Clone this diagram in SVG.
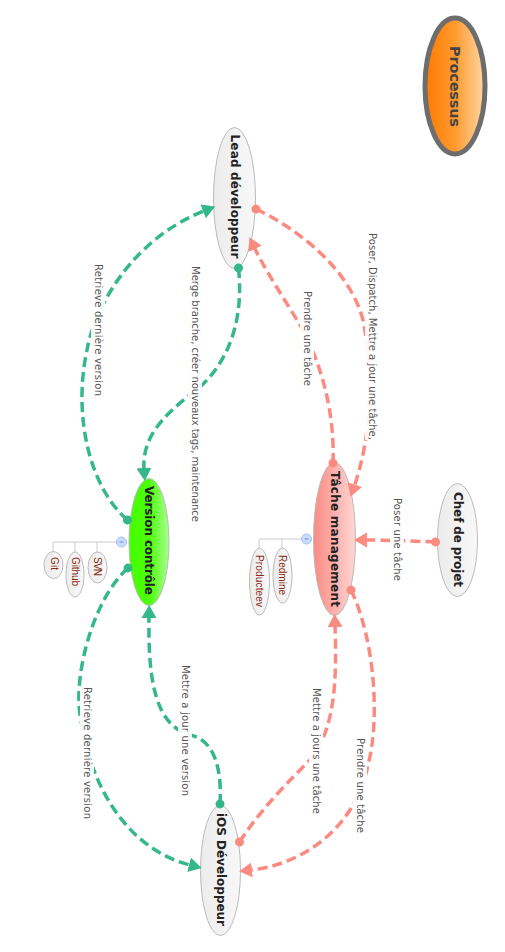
<svg xmlns="http://www.w3.org/2000/svg" width="505" height="952" viewBox="0 0 505 952">
<style>
text{font-family:"DejaVu Sans",Verdana,sans-serif;text-anchor:middle;dominant-baseline:central}
.n{font-size:12px;font-weight:bold;fill:#222}
.l{font-size:10px;fill:#555}
.b{fill:#fff;fill-opacity:.92}
.s{font-family:"Liberation Sans",Arial,sans-serif;font-size:10px;fill:#8a2a10}
.e{stroke:#bbb;stroke-width:1}
.c{fill:none;stroke-width:3.500;stroke-dasharray:10 5}
.g{stroke:#34b78a;marker-start:url(#dg);marker-end:url(#ag)}
.r{stroke:#fb8a80;marker-start:url(#dr);marker-end:url(#ar)}
.t{fill:none;stroke:#ccc;stroke-width:1}
.i{fill:#c9dcff;stroke:#a5c0ee;stroke-width:1}
</style>
<defs>
<linearGradient id="gp"><stop offset="0" stop-color="#ff7a00"/><stop offset=".5" stop-color="#ff9a2e"/><stop offset="1" stop-color="#ffd8a8"/></linearGradient>
<linearGradient id="gw"><stop offset="0" stop-color="#ececec"/><stop offset="1" stop-color="#f8f8f8"/></linearGradient>
<linearGradient id="gv"><stop offset="0" stop-color="#44ff00"/><stop offset=".5" stop-color="#4cff08"/><stop offset="1" stop-color="#a8ff90"/></linearGradient>
<linearGradient id="gt"><stop offset="0" stop-color="#fb8a84"/><stop offset="1" stop-color="#ffd6d3"/></linearGradient>
<marker id="ag" markerUnits="userSpaceOnUse" markerWidth="16" markerHeight="16" refX="1" refY="8" orient="auto"><path d="M0,0.500L13,8L0,15.500Z" fill="#34b78a"/></marker>
<marker id="ar" markerUnits="userSpaceOnUse" markerWidth="16" markerHeight="16" refX="1" refY="8" orient="auto"><path d="M0,0.500L13,8L0,15.500Z" fill="#fb8a80"/></marker>
<marker id="dg" markerUnits="userSpaceOnUse" markerWidth="12" markerHeight="12" refX="6" refY="6" orient="auto"><circle cx="6" cy="6" r="4.500" fill="#34b78a"/></marker>
<marker id="dr" markerUnits="userSpaceOnUse" markerWidth="12" markerHeight="12" refX="6" refY="6" orient="auto"><circle cx="6" cy="6" r="4.500" fill="#fb8a80"/></marker>
</defs>
<g id="processus"><ellipse cx="455" cy="86" rx="30" ry="68" fill="url(#gp)" stroke="#6d6d6d" stroke-width="5"/><text style="font-size:14.500px;font-weight:bold;fill:#444" textLength="81" transform="translate(455,86.500) rotate(90)">Processus</text></g>
<g id="lead"><ellipse class="e" cx="234.500" cy="198" rx="21" ry="70.500" fill="url(#gw)"/><text class="n" textLength="124" transform="translate(234.500,196.500) rotate(90)">Lead développeur</text></g>
<g id="version"><ellipse class="e" cx="149" cy="542" rx="20" ry="63.500" fill="url(#gv)"/><text class="n" textLength="109" transform="translate(149,540.500) rotate(90)">Version contrôle</text></g>
<g id="tache"><ellipse class="e" cx="334.500" cy="539" rx="21" ry="76.500" fill="url(#gt)"/><text class="n" textLength="136" transform="translate(334.500,539) rotate(90)">Tâche management</text></g>
<g id="chef"><ellipse class="e" cx="457.500" cy="540" rx="20" ry="56.500" fill="url(#gw)"/><text class="n" textLength="95" transform="translate(457.500,539.500) rotate(90)">Chef de projet</text></g>
<g id="ios"><ellipse class="e" cx="220.500" cy="870.500" rx="20" ry="65" fill="url(#gw)"/><text class="n" textLength="113" transform="translate(220.500,869.500) rotate(90)">iOS Développeur</text></g>
<g id="version-sub">
<path class="t" d="M116,542H53V552M75,542V552M97,542V552"/>
<circle class="i" cx="121.500" cy="542" r="5"/><path d="M119.500,542H123.500" stroke="#6f8fc8"/>
<g id="git"><ellipse class="e" cx="53.500" cy="565" rx="9.500" ry="13.500" fill="url(#gw)"/><text class="s" textLength="13" transform="translate(54,563.500) rotate(90)">Git</text></g>
<g id="github"><ellipse class="e" cx="75" cy="574.500" rx="9" ry="22.500" fill="url(#gw)"/><text class="s" textLength="29" transform="translate(75,571.500) rotate(90)">Github</text></g>
<g id="svn"><ellipse class="e" cx="97.500" cy="567.500" rx="9.500" ry="15.500" fill="url(#gw)"/><text class="s" textLength="19" transform="translate(97.500,566.500) rotate(90)">SVN</text></g>
</g>
<g id="tache-sub">
<path class="t" d="M301,539H259V548M282,539V548"/>
<circle class="i" cx="306.500" cy="539" r="5"/><path d="M304.500,539H308.500" stroke="#6f8fc8"/>
<g id="producteev"><ellipse class="e" cx="259.500" cy="581.500" rx="10" ry="33.500" fill="url(#gw)"/><text class="s" textLength="52" transform="translate(259.500,581) rotate(90)">Producteev</text></g>
<g id="redmine"><ellipse class="e" cx="282.500" cy="575.500" rx="9.500" ry="27.500" fill="url(#gw)"/><text class="s" textLength="40" transform="translate(282.500,575) rotate(90)">Redmine</text></g>
</g>
<g id="connectors">
<path class="c g" d="M127.500,520 C92,490 72,420 87,350 C94,310 130,240 204,211"/>
<path class="c g" d="M238.500,268 C245,330 222,372 190,395 C160,418 142,440 144,469"/>
<path class="c g" d="M128,568 C92,600 72,680 81,720 C91,790 130,850 190,865"/>
<path class="c g" d="M220,804 C222,770 215,740 190,735 C155,725 148,680 149,617"/>
<path class="c r" d="M256,209 C300,230 350,270 363,320 C375,380 370,440 354.500,485.500"/>
<path class="c r" d="M333,463 C335,410 320,360 300,325 C285,300 265,270 254.600,248"/>
<path class="c r" d="M435.500,542 C410,541 385,540 366,540"/>
<path class="c r" d="M239.500,842 C260,810 290,780 310,760 C335,730 337,680 335,626"/>
<path class="c r" d="M351,590 C375,640 380,720 368,765 C355,830 300,865 251,870"/>
</g>
<g id="labels">
<rect class="b" x="91" y="264" width="14" height="132"/><text class="l" textLength="132" transform="translate(98,330) rotate(90)">Retrieve dernière version</text>
<rect class="b" x="188" y="266" width="14" height="256"/><text class="l" textLength="256" transform="translate(195,394) rotate(90)">Merge branche, créer nouveaux tags, maintenance</text>
<rect class="b" x="365" y="233" width="14" height="207"/><text class="l" textLength="207" transform="translate(372,336.500) rotate(90)">Poser, Dispatch, Mettre a jour une tâche,</text>
<rect class="b" x="300" y="291" width="14" height="95"/><text class="l" textLength="95" transform="translate(307,338.500) rotate(90)">Prendre une tâche</text>
<rect class="b" x="390" y="498" width="14" height="83"/><text class="l" textLength="83" transform="translate(397,539.500) rotate(90)">Poser une tâche</text>
<rect class="b" x="178" y="665" width="14" height="131"/><text class="l" textLength="131" transform="translate(185,730.500) rotate(90)">Mettre a jour une version</text>
<rect class="b" x="80" y="687" width="14" height="132"/><text class="l" textLength="132" transform="translate(87,753) rotate(90)">Retrieve dernière version</text>
<rect class="b" x="309" y="688" width="14" height="126"/><text class="l" textLength="126" transform="translate(316,751) rotate(90)">Mettre a jours une tâche</text>
<rect class="b" x="353" y="738" width="14" height="95"/><text class="l" textLength="95" transform="translate(360,785.500) rotate(90)">Prendre une tâche</text>
</g>
</svg>
